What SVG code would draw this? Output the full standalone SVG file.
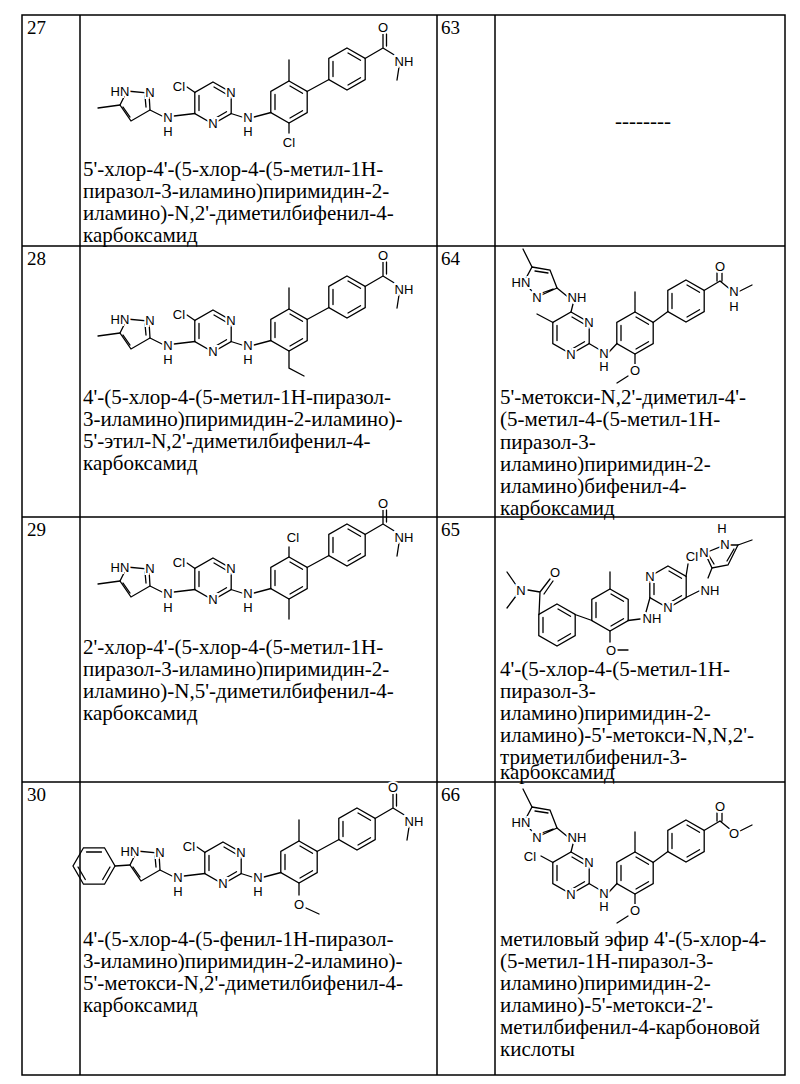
<svg xmlns="http://www.w3.org/2000/svg" xmlns:xlink="http://www.w3.org/1999/xlink" width="800" height="1084" viewBox="0 0 800 1084">
<style>
.b{stroke:#000;stroke-width:1.3;fill:none;stroke-linecap:round}
.lb{font-family:"Liberation Sans",Arial,sans-serif;font-size:13px;text-anchor:middle;fill:#000;stroke:#fff;stroke-width:4;paint-order:stroke}
.tx{font-family:"Liberation Serif","Times New Roman",serif;font-size:21px;fill:#000}
.num{font-family:"Liberation Serif","Times New Roman",serif;font-size:19px;fill:#000}
.grid{stroke:#000;stroke-width:1.5;fill:none}
</style>
<defs>
<g id="hex" class="b"><path d="M0,-21 L18.2,-10.5 L18.2,10.5 L0,21 L-18.2,10.5 L-18.2,-10.5 Z M1,-16 L13.5,-8.7 M13.5,8.7 L1,16 M-14,7.5 L-14,-7.5"/></g>
<g id="core27">
<g class="b">
<path d="M120,105 L127,91 L149,93 L150,110 L131,121 Z M145,96 L146,107 M130,117 L123,107"/>
<path d="M150,110 L162,116 M174,116 L195,113.5 M231,113.5 L242,117 M254,117 L271,112.5 M307,91.5 L329,79.5 M365,58.5 L383,48 M383,48 L383,34 M386.5,46 L386.5,34 M383,48 L396,56 M399,67 L397,80"/>
</g>
<use href="#hex" x="213" y="103"/>
<use href="#hex" x="289" y="102"/>
<use href="#hex" x="347" y="69"/>
<text class="lb" x="120" y="96">HN</text>
<text class="lb" x="150" y="97">N</text>
<text class="lb" x="168" y="122">N</text><text class="lb" x="168" y="136">H</text>
<text class="lb" x="231" y="97">N</text>
<text class="lb" x="213" y="128">N</text>
<text class="lb" x="248" y="122">N</text><text class="lb" x="248" y="136">H</text>
<text class="lb" x="383" y="32">O</text>
<text class="lb" x="404" y="66">NH</text>
</g>
<g id="coreV">
<g class="b">
<path d="M532,267 L550,270 L557,288 L537,297 L524,282 Z M535,271 L548,273 M553,289 L539,294"/>
<path d="M532,267 L523,249 M557,288 L568,297 M573,304 L571,312 M589,343.5 L600,350 M609,352 L617,343.5 M653,322.5 L668,311.5 M704,290.5 L720,281 M717,281 L717,273 M722,281 L722,273 M720,281 L731,290 M738,292 L752,285 M635,312 L635,292 M635,354 L635,364 M628,376 L617,383"/>
</g>
<use href="#hex" x="571" y="333"/>
<use href="#hex" x="635" y="333"/>
<use href="#hex" x="686" y="301"/>
<text class="lb" x="521" y="287">HN</text>
<text class="lb" x="537" y="302">N</text>
<text class="lb" x="577" y="302">NH</text>
<text class="lb" x="589" y="327">N</text>
<text class="lb" x="571" y="359">N</text>
<text class="lb" x="604" y="358">N</text><text class="lb" x="604" y="371">H</text>
<text class="lb" x="635" y="375">O</text>
<text class="lb" x="720" y="271">O</text>
</g>
</defs>

<g id="table">
<rect class="grid" x="22" y="15" width="763" height="1060"/>
<path class="grid" d="M80,15 V1075 M437,15 V1075 M495,15 V1075 M22,246 H785 M22,517 H785 M22,782 H785"/>
<text class="num" x="27" y="34">27</text>
<text class="num" x="27" y="265">28</text>
<text class="num" x="27" y="536">29</text>
<text class="num" x="27" y="801">30</text>
<text class="num" x="441" y="34">63</text>
<text class="num" x="441" y="265">64</text>
<text class="num" x="441" y="536">65</text>
<text class="num" x="441" y="801">66</text>
</g>

<g id="n27">
<use href="#core27"/>
<g class="b"><path d="M120,105 L98,108 M195,92.5 L187,87 M289,81 L289,60 M289,123 L289,133"/></g>
<text class="lb" x="179" y="91">Cl</text>
<text class="lb" x="289" y="147">Cl</text>
<text class="tx" x="83" y="176">5'-хлор-4'-(5-хлор-4-(5-метил-1H-</text>
<text class="tx" x="83" y="198">пиразол-3-иламино)пиримидин-2-</text>
<text class="tx" x="83" y="220">иламино)-N,2'-диметилбифенил-4-</text>
<text class="tx" x="83" y="242">карбоксамид</text>
</g>

<g id="n28">
<use href="#core27" y="228"/>
<g class="b" transform="translate(0,228)"><path d="M120,105 L98,108 M195,92.5 L187,87 M289,81 L289,60 M289,123 L289,140 L304,148"/></g>
<text class="lb" x="179" y="319">Cl</text>
<text class="tx" x="83" y="404">4'-(5-хлор-4-(5-метил-1H-пиразол-</text>
<text class="tx" x="83" y="426">3-иламино)пиримидин-2-иламино)-</text>
<text class="tx" x="83" y="448">5'-этил-N,2'-диметилбифенил-4-</text>
<text class="tx" x="83" y="470">карбоксамид</text>
</g>

<g id="n29">
<use href="#core27" y="476"/>
<g class="b" transform="translate(0,476)"><path d="M120,105 L98,108 M195,92.5 L187,87 M289,81 L289,71 M289,123 L289,143"/></g>
<text class="lb" x="179" y="567">Cl</text>
<text class="lb" x="293" y="542">Cl</text>
<text class="tx" x="83" y="654">2'-хлор-4'-(5-хлор-4-(5-метил-1H-</text>
<text class="tx" x="83" y="676">пиразол-3-иламино)пиримидин-2-</text>
<text class="tx" x="83" y="698">иламино)-N,5'-диметилбифенил-4-</text>
<text class="tx" x="83" y="720">карбоксамид</text>
</g>

<g id="n30">
<use href="#core27" x="10" y="760"/>
<g class="b" transform="translate(10,760)"><path d="M120,105 L105,106 M195,92.5 L187,87 M289,81 L289,60 M289,123 L289,135 M296,148 L309,154"/></g>
<use href="#hex" transform="translate(94,866) rotate(90)"/>
<text class="lb" x="189" y="851">Cl</text>
<text class="lb" x="299" y="909">O</text>
<text class="tx" x="83" y="946">4'-(5-хлор-4-(5-фенил-1H-пиразол-</text>
<text class="tx" x="83" y="968">3-иламино)пиримидин-2-иламино)-</text>
<text class="tx" x="83" y="990">5'-метокси-N,2'-диметилбифенил-4-</text>
<text class="tx" x="83" y="1012">карбоксамид</text>
</g>

<g id="n63">
<text class="tx" x="643" y="128" text-anchor="middle">--------</text>
</g>

<g id="n64">
<use href="#coreV"/>
<g class="b"><path d="M553,322.5 L537,314"/></g>
<text class="lb" x="734" y="296">N</text><text class="lb" x="734" y="311">H</text>
<text class="tx" x="500" y="404">5'-метокси-N,2'-диметил-4'-</text>
<text class="tx" x="500" y="426">(5-метил-4-(5-метил-1H-</text>
<text class="tx" x="500" y="449">пиразол-3-</text>
<text class="tx" x="500" y="471">иламино)пиримидин-2-</text>
<text class="tx" x="500" y="493">иламино)бифенил-4-</text>
<text class="tx" x="500" y="515">карбоксамид</text>
</g>

<g id="n65">
<g class="b">
<path d="M725,545 L738,545 L728,565 L712,568 L705,553 Z M734,549 L727,561 M714,564 L708,554"/>
<path d="M738,545 L752,540 M712,568 L708,578 M686,597.5 L699,591 M686,576.5 L688,564 M650,597.5 L646,612 M628,620.5 L640,619 M610,589 L610,572 M610,631 L610,642 M617,650 L628,650 M592,620.5 L575,614.5 M539,614.5 L540,592 M540,592 L550,579 M544,594 L553,581 M540,592 L528,590 M516,585 L507,572 M516,596 L507,608"/>
</g>
<use href="#hex" x="668" y="587"/>
<use href="#hex" x="610" y="610"/>
<use href="#hex" x="557" y="625"/>
<text class="lb" x="722" y="533">H</text>
<text class="lb" x="725" y="549">N</text>
<text class="lb" x="704" y="557">N</text>
<text class="lb" x="710" y="595">NH</text>
<text class="lb" x="692" y="561">Cl</text>
<text class="lb" x="650" y="581">N</text>
<text class="lb" x="668" y="612">N</text>
<text class="lb" x="652" y="623">NH</text>
<text class="lb" x="611" y="655">O</text>
<text class="lb" x="555" y="577">O</text>
<text class="lb" x="521" y="595">N</text>
<text class="tx" x="500" y="676">4'-(5-хлор-4-(5-метил-1H-</text>
<text class="tx" x="500" y="698">пиразол-3-</text>
<text class="tx" x="500" y="720">иламино)пиримидин-2-</text>
<text class="tx" x="500" y="742">иламино)-5'-метокси-N,N,2'-</text>
<text class="tx" x="500" y="764">триметилбифенил-3-</text>
<text class="tx" x="500" y="779">карбоксамид</text>
</g>

<g id="n66">
<use href="#coreV" y="540"/>
<g class="b"><path d="M553,862.5 L541,856"/></g>
<text class="lb" x="530" y="861">Cl</text>
<text class="lb" x="734" y="838">O</text>
<text class="tx" x="500" y="946">метиловый эфир 4'-(5-хлор-4-</text>
<text class="tx" x="500" y="968">(5-метил-1H-пиразол-3-</text>
<text class="tx" x="500" y="990">иламино)пиримидин-2-</text>
<text class="tx" x="500" y="1012">иламино)-5'-метокси-2'-</text>
<text class="tx" x="500" y="1034">метилбифенил-4-карбоновой</text>
<text class="tx" x="500" y="1056">кислоты</text>
</g>
</svg>
